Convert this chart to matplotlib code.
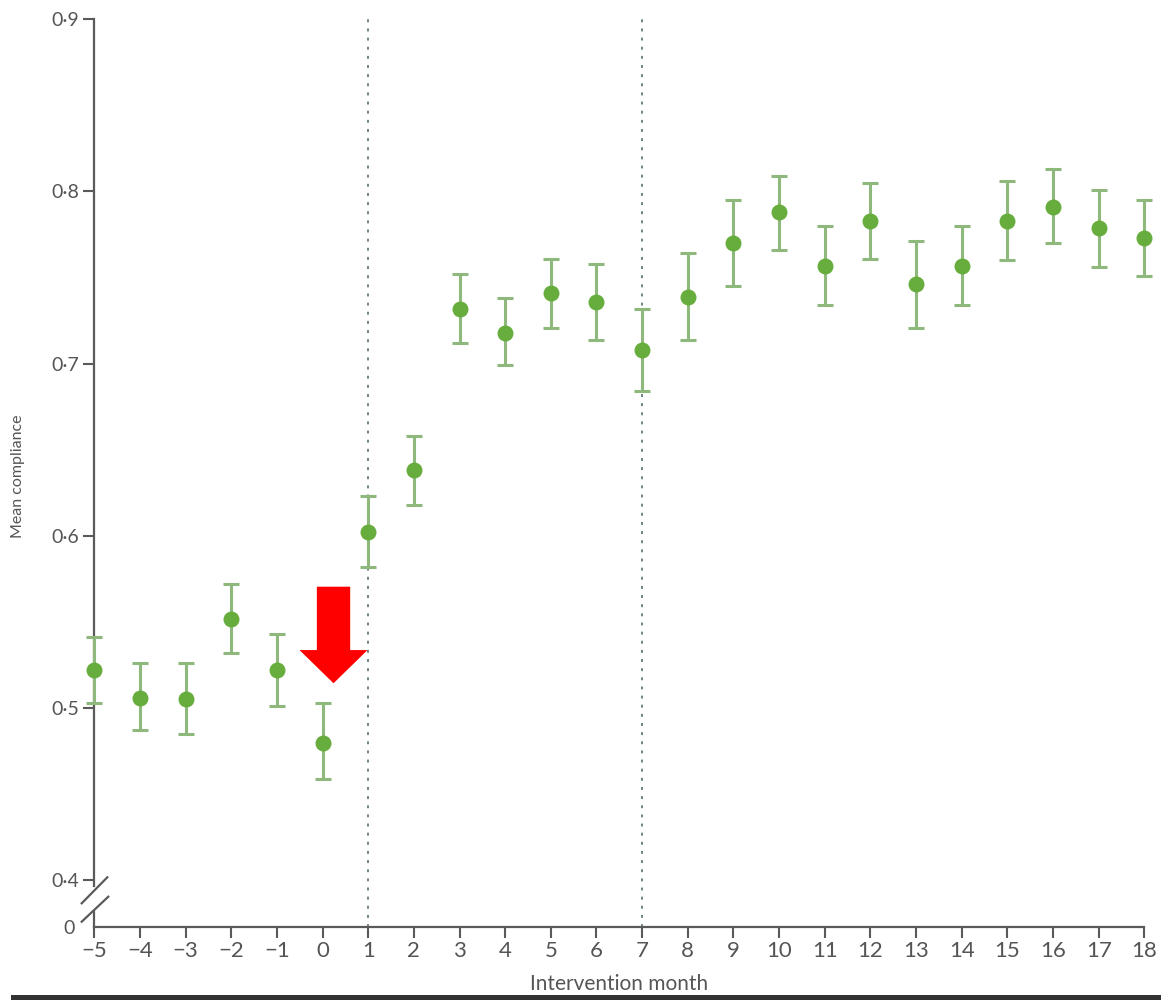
import matplotlib
matplotlib.use("Agg")
import matplotlib.pyplot as plt
from matplotlib.lines import Line2D
from matplotlib.patches import FancyArrow, Rectangle

plt.rcParams['font.family'] = ['Lato', 'DejaVu Sans']

months = [-5, -4, -3, -2, -1, 0, 1, 2, 3, 4, 5, 6, 7, 8, 9, 10, 11, 12, 13, 14, 15, 16, 17, 18]
mean_compliance = [0.522, 0.506, 0.505, 0.552, 0.522, 0.480, 0.602, 0.638, 0.732, 0.718,
                   0.741, 0.736, 0.708, 0.739, 0.770, 0.788, 0.757, 0.783, 0.746, 0.757,
                   0.783, 0.791, 0.779, 0.773]
ci_upper = [0.541, 0.526, 0.526, 0.572, 0.543, 0.503, 0.623, 0.658, 0.752, 0.738,
            0.761, 0.758, 0.732, 0.764, 0.795, 0.809, 0.780, 0.805, 0.771, 0.780,
            0.806, 0.813, 0.801, 0.795]
ci_lower = [0.503, 0.487, 0.485, 0.532, 0.501, 0.459, 0.582, 0.618, 0.712, 0.699,
            0.721, 0.714, 0.684, 0.714, 0.745, 0.766, 0.734, 0.761, 0.721, 0.734,
            0.760, 0.770, 0.756, 0.751]
yticks = [0.4, 0.5, 0.6, 0.7, 0.8, 0.9]
ytick_labels = ['0·4', '0·5', '0·6', '0·7', '0·8', '0·9']
phase_lines = [1, 7]
arrow_month = 0.24

W, H = 1161, 1000
fig = plt.figure(figsize=(W / 100, H / 100), dpi=100)

def px_axes(left, top, right, bottom):
    return fig.add_axes([left / W, 1 - bottom / H, (right - left) / W, (bottom - top) / H])

grey = '#5a5a5a'
text_grey = '#555555'
dot_green = '#67ad3e'
bar_green = '#8fb97c'

x0, x1 = 94.3, 1144.3
top_px, main_bot_px = 19.3, 886.0
axis_px = 926.7
px_per_unit = 1722.0

ax = px_axes(x0, top_px, x1, main_bot_px)
axb = px_axes(x0, 912.0, x1, axis_px)

ax.set_xlim(-5, 18)
ax.set_ylim(0.9 - (main_bot_px - top_px) / px_per_unit, 0.9)
axb.set_xlim(-5, 18)
axb.set_ylim(0, 1)

# data
yerr = [[m - l for m, l in zip(mean_compliance, ci_lower)],
        [u - m for m, u in zip(mean_compliance, ci_upper)]]
ax.errorbar(months, mean_compliance, yerr=yerr, fmt='none', ecolor=bar_green,
            elinewidth=2.2, capsize=6, capthick=2.2, clip_on=False, zorder=3)
ax.plot(months, mean_compliance, 'o', color=dot_green, markersize=11.5,
        markeredgewidth=0, clip_on=False, zorder=4)

# phase lines
gap = (axis_px - main_bot_px) / (main_bot_px - top_px)
for xv in phase_lines:
    ax.axvline(xv, ymin=-gap, ymax=1.005, color='#6e8585', linestyle=(0, (1.5, 3.2)),
               linewidth=1.4, clip_on=False, zorder=1)

# spines
for a in (ax, axb):
    a.spines['top'].set_visible(False)
    a.spines['right'].set_visible(False)
    a.spines['left'].set_color(grey)
    a.spines['left'].set_linewidth(1.6)
    a.patch.set_alpha(0)
ax.spines['bottom'].set_visible(False)
axb.spines['bottom'].set_color(grey)
axb.spines['bottom'].set_linewidth(1.6)

ax.set_yticks(yticks)
ax.set_yticklabels(ytick_labels)
ax.set_xticks([])
ax.tick_params(axis='y', direction='out', length=8, width=1.5, color=grey,
               labelcolor=text_grey, labelsize=14, pad=3)

axb.set_yticks([0])
axb.set_yticklabels(['0'])
axb.set_xticks(months)
axb.set_xticklabels([str(m).replace('-', '\u2212') for m in months])
axb.tick_params(axis='y', direction='out', length=0, width=1.5, color=grey,
                labelcolor=text_grey, labelsize=14, pad=14)
axb.tick_params(axis='x', direction='out', length=8, width=1.5, color=grey,
                labelcolor=text_grey, labelsize=16, pad=2)

# axis break marks
for (xa, ya), (xb, yb) in [((81.7, 903.3), (107.3, 877.3)), ((81.7, 921.7), (108.3, 896.7))]:
    fig.add_artist(Line2D([xa / W, xb / W], [1 - ya / H, 1 - yb / H],
                          color=grey, linewidth=1.6, transform=fig.transFigure))

# labels
fig.text(18 / W, 1 - 476 / H, 'Mean compliance', rotation=90, ha='center', va='center',
         fontsize=11.5, color=text_grey)
fig.text(619 / W, 1 - 984 / H, 'Intervention month', ha='center', va='center',
         fontsize=15, color=text_grey)

# red arrow annotation
ax.add_patch(FancyArrow(arrow_month, 0.5705, 0, -(0.5705 - 0.5144), width=0.73,
                        head_width=1.49, head_length=0.0193, length_includes_head=True,
                        color='#ff0000', linewidth=0, clip_on=False, zorder=5))

# dark strip at bottom (screenshot edge)
fig.add_artist(Rectangle((11 / W, 0), 1 - 11 / W, 5 / H, transform=fig.transFigure,
                         color='#333333', linewidth=0))

fig.savefig('out.png', dpi=100)
